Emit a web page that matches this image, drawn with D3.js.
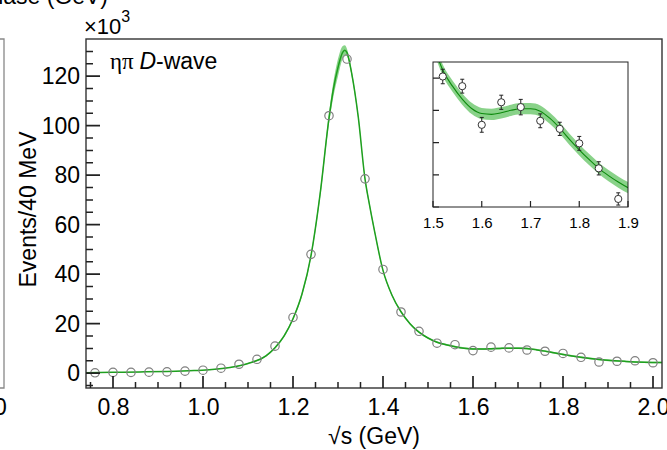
<!DOCTYPE html>
<html>
<head>
<meta charset="utf-8">
<script src="https://cdn.jsdelivr.net/npm/d3@7"></script>
<style>
  body { margin: 0; background: #fff; }
  svg { display: block; font-family: "Liberation Sans", Arial, sans-serif; }
</style>
</head>
<body>
<div id="chart"></div>
<script>
// data points, 40 MeV bins (values in units of 10^3 events)
const binCenters = [0.76, 0.80, 0.84, 0.88, 0.92, 0.96, 1.00, 1.04, 1.08, 1.12, 1.16, 1.20,
  1.24, 1.28, 1.32, 1.36, 1.40, 1.44, 1.48, 1.52, 1.56, 1.60, 1.64, 1.68, 1.72, 1.76,
  1.80, 1.84, 1.88, 1.92, 1.96, 2.00];
const eventsK = [0.15, 0.3, 0.3, 0.4, 0.5, 0.8, 1.2, 2.0, 3.6, 5.6, 10.9, 22.5,
  48.0, 104.0, 126.9, 78.5, 41.9, 24.7, 16.9, 12.1, 11.5, 9.1, 10.5, 10.2, 9.35, 8.85,
  7.95, 6.4, 4.5, 4.8, 5.0, 4.2];
const eventsErrK = [0.1, 0.1, 0.1, 0.1, 0.15, 0.15, 0.2, 0.25, 0.3, 0.35, 0.45, 0.6,
  0.9, 1.2, 1.3, 1.0, 0.7, 0.55, 0.5, 0.45, 0.43, 0.46, 0.44, 0.48, 0.43, 0.41,
  0.43, 0.41, 0.38, 0.38, 0.38, 0.36];

// fit curve and its error band
const fitMass = [0.74, 0.80, 0.86, 0.92, 0.98, 1.02, 1.06, 1.10, 1.14, 1.16, 1.18, 1.20,
  1.22, 1.24, 1.26, 1.28, 1.29, 1.30, 1.31, 1.315, 1.32, 1.33, 1.345, 1.36, 1.37, 1.38,
  1.40, 1.42, 1.44, 1.46, 1.48, 1.50, 1.52, 1.54, 1.56, 1.58, 1.60, 1.62, 1.64, 1.66,
  1.68, 1.70, 1.72, 1.74, 1.76, 1.78, 1.80, 1.82, 1.84, 1.86, 1.88, 1.90, 1.94, 1.98, 2.02];
const fitValueK = [0.2, 0.35, 0.5, 0.7, 1.05, 1.45, 2.3, 3.9, 7.0, 10.3, 15.0, 22.0,
  32.0, 47.5, 72.0, 103.0, 115.0, 123.5, 129.5, 130.5, 129.5, 121.5, 103.5, 78.5, 68.0, 58.5,
  41.5, 31.5, 24.8, 20.0, 16.6, 14.2, 12.5, 11.5, 10.7, 10.1, 9.8, 9.75, 9.85, 10.0,
  10.1, 10.1, 9.95, 9.5, 8.9, 8.2, 7.55, 6.95, 6.4, 5.95, 5.55, 5.2, 4.75, 4.45, 4.3];
const fitErrK = [0.1, 0.1, 0.1, 0.1, 0.1, 0.15, 0.15, 0.2, 0.3, 0.4, 0.5, 0.6,
  0.8, 1.0, 1.5, 2.2, 3.0, 3.5, 2.6, 2.0, 1.5, 1.2, 1.0, 1.0, 0.9, 0.8,
  0.6, 0.5, 0.4, 0.4, 0.35, 0.35, 0.35, 0.35, 0.35, 0.35, 0.35, 0.35, 0.35, 0.35,
  0.35, 0.35, 0.35, 0.35, 0.35, 0.35, 0.35, 0.35, 0.35, 0.35, 0.35, 0.35, 0.3, 0.3, 0.3];

// axis ticks
const xMajorTicks = [0.8, 1.0, 1.2, 1.4, 1.6, 1.8, 2.0];
const xMinorTicks = [0.75, 0.85, 0.9, 0.95, 1.05, 1.1, 1.15, 1.25, 1.3, 1.35, 1.45, 1.5, 1.55,
  1.65, 1.7, 1.75, 1.85, 1.9, 1.95];
const yMajorTicks = [0, 20, 40, 60, 80, 100, 120];
const yMinorTicks = [-5, 5, 10, 15, 25, 30, 35, 45, 50, 55, 65, 70, 75, 85, 90, 95, 105, 110, 115, 125, 130];
const insetXTicks = [1.5, 1.6, 1.7, 1.8, 1.9];
const insetYTicks = [4, 6, 8, 10, 12];

const width = 667, height = 450;
const frame = {left: 86, top: 39, right: 662, bottom: 388};
const inset = {left: 433, top: 62, right: 628, bottom: 207};

const axisColor = '#333';
const tickColor = '#222';
const bandColor = '#6cc96c';
const lineColor = '#1f9f1f';

const svg = d3.select('#chart')
  .append('svg')
  .attr('width', width)
  .attr('height', height);

const points = binCenters.map((m, i) => ({m: m, v: eventsK[i], e: eventsErrK[i]}));
const fit = fitMass.map((m, i) => ({m: m, v: fitValueK[i], e: fitErrK[i]}));

// remnant of the neighbouring panels (cut off by the figure edge)
svg.append('text')
  .attr('x', 108).attr('y', 4)
  .attr('text-anchor', 'end')
  .attr('font-size', 23)
  .text('Phase (GeV)');
svg.append('path')
  .attr('d', `M0,${frame.top}H4V${frame.bottom}H0`)
  .attr('fill', 'none')
  .attr('stroke', '#888')
  .attr('stroke-width', 1.3);
svg.append('text')
  .attr('x', -6).attr('y', 415)
  .attr('font-size', 23)
  .text('0');

// ---------- main panel ----------
const x = d3.scaleLinear().domain([0.74, 2.02]).range([frame.left, frame.right]);
const y = d3.scaleLinear().domain([-6, 135]).range([frame.bottom, frame.top]);

svg.append('clipPath').attr('id', 'mainClip')
  .append('rect')
  .attr('x', frame.left).attr('y', frame.top)
  .attr('width', frame.right - frame.left).attr('height', frame.bottom - frame.top);

const band = (sx, sy) => d3.area()
  .x(d => sx(d.m)).y0(d => sy(d.v - d.e)).y1(d => sy(d.v + d.e))
  .curve(d3.curveMonotoneX);
const line = (sx, sy) => d3.line()
  .x(d => sx(d.m)).y(d => sy(d.v))
  .curve(d3.curveMonotoneX);

const main = svg.append('g').attr('clip-path', 'url(#mainClip)');
main.append('path').datum(fit)
  .attr('d', band(x, y))
  .attr('fill', bandColor).attr('opacity', 0.8);
main.append('path').datum(fit)
  .attr('d', line(x, y))
  .attr('fill', 'none').attr('stroke', lineColor).attr('stroke-width', 1.5);

main.selectAll('circle').data(points).join('circle')
  .attr('cx', d => x(d.m)).attr('cy', d => y(d.v)).attr('r', 4.2)
  .attr('fill', 'none').attr('stroke', '#808080').attr('stroke-width', 1.2);

// frame
svg.append('rect')
  .attr('x', frame.left).attr('y', frame.top)
  .attr('width', frame.right - frame.left).attr('height', frame.bottom - frame.top)
  .attr('fill', 'none').attr('stroke', axisColor).attr('stroke-width', 1.4);

// inward tick marks drawn straight from the scales
function xTicks(scale, values, y0, len, w) {
  svg.append('path')
    .attr('d', values.map(v => `M${scale(v)},${y0}V${y0 - len}`).join(''))
    .attr('fill', 'none').attr('stroke', tickColor).attr('stroke-width', w);
}
function yTicks(scale, values, x0, len, w) {
  svg.append('path')
    .attr('d', values.map(v => `M${x0},${scale(v)}H${x0 + len}`).join(''))
    .attr('fill', 'none').attr('stroke', tickColor).attr('stroke-width', w);
}
// tick labels through d3 axes (tick marks themselves drawn above)
function styleAxis(g, fontSize) {
  g.select('.domain').remove();
  g.selectAll('.tick line').remove();
  g.selectAll('text').attr('font-size', fontSize).attr('fill', '#000')
    .attr('font-family', '"Liberation Sans", Arial, sans-serif');
}

xTicks(x, xMinorTicks, frame.bottom, 6, 1.5);
xTicks(x, xMajorTicks, frame.bottom, 12, 1.7);
yTicks(y, yMinorTicks, frame.left, 7, 1.5);
yTicks(y, yMajorTicks, frame.left, 14, 1.7);

svg.append('g').attr('transform', `translate(0,${frame.bottom})`)
  .call(d3.axisBottom(x).tickValues(xMajorTicks).tickSize(0).tickPadding(11).tickFormat(d3.format('.1f')))
  .call(styleAxis, 23);
svg.append('g').attr('transform', `translate(${frame.left},0)`)
  .call(d3.axisLeft(y).tickValues(yMajorTicks).tickSize(0).tickPadding(6).tickFormat(d3.format('d')))
  .call(styleAxis, 23);

// axis titles
svg.append('text')
  .attr('x', (frame.left + frame.right) / 2).attr('y', 444)
  .attr('text-anchor', 'middle')
  .attr('font-size', 23)
  .text('\u221As (GeV)');
svg.append('text')
  .attr('transform', `translate(36,${(frame.top + frame.bottom) / 2 - 4}) rotate(-90)`)
  .attr('text-anchor', 'middle')
  .attr('font-size', 23)
  .text('Events/40 MeV');

const mult = svg.append('text').attr('x', 84).attr('y', 34).attr('font-size', 22);
mult.append('tspan').text('\u00D710');
mult.append('tspan').attr('dy', -12).attr('font-size', 16).text('3');

const label = svg.append('text').attr('x', 110).attr('y', 69).attr('font-size', 23);
label.append('tspan').attr('font-family', '"Liberation Serif", "DejaVu Serif", serif').text('\u03B7\u03C0 ');
label.append('tspan').attr('font-style', 'italic').text('D');
label.append('tspan').text('-wave');

// ---------- inset ----------
const xi = d3.scaleLinear().domain([1.5, 1.9]).range([inset.left, inset.right]);
const yi = d3.scaleLinear().domain([4, 13]).range([inset.bottom, inset.top]);

svg.append('rect')
  .attr('x', inset.left).attr('y', inset.top)
  .attr('width', inset.right - inset.left).attr('height', inset.bottom - inset.top)
  .attr('fill', '#fff');

svg.append('clipPath').attr('id', 'insetClip')
  .append('rect')
  .attr('x', inset.left).attr('y', inset.top)
  .attr('width', inset.right - inset.left).attr('height', inset.bottom - inset.top);

const ins = svg.append('g').attr('clip-path', 'url(#insetClip)');
ins.append('path').datum(fit)
  .attr('d', band(xi, yi))
  .attr('fill', '#74ca74').attr('opacity', 0.85);
ins.append('path').datum(fit)
  .attr('d', line(xi, yi))
  .attr('fill', 'none').attr('stroke', '#0c8a0c').attr('stroke-width', 1.1);

// error bars with small end caps, one path per point
const insetPoints = points.filter(d => d.m > 1.5 && d.m < 1.9);
ins.selectAll('path.eb').data(insetPoints).join('path')
  .attr('class', 'eb')
  .attr('d', d => {
    const cx = xi(d.m), lo = yi(d.v - d.e), hi = yi(d.v + d.e);
    return `M${cx},${lo}V${hi}M${cx - 2},${lo}H${cx + 2}M${cx - 2},${hi}H${cx + 2}`;
  })
  .attr('fill', 'none').attr('stroke', '#222').attr('stroke-width', 1);
ins.selectAll('circle').data(insetPoints).join('circle')
  .attr('cx', d => xi(d.m)).attr('cy', d => yi(d.v)).attr('r', 3.6)
  .attr('fill', '#fff').attr('stroke', '#333').attr('stroke-width', 1);

svg.append('rect')
  .attr('x', inset.left).attr('y', inset.top)
  .attr('width', inset.right - inset.left).attr('height', inset.bottom - inset.top)
  .attr('fill', 'none').attr('stroke', '#222').attr('stroke-width', 1);

xTicks(xi, insetXTicks, inset.bottom, 6, 1.2);
yTicks(yi, insetYTicks, inset.left, 6, 1.2);
svg.append('g').attr('transform', `translate(0,${inset.bottom})`)
  .call(d3.axisBottom(xi).tickValues(insetXTicks).tickSize(0).tickPadding(10).tickFormat(d3.format('.1f')))
  .call(styleAxis, 15);
</script>
</body>
</html>
